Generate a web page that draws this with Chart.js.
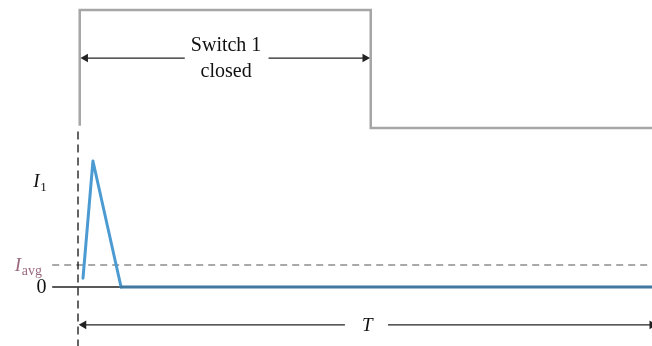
<!DOCTYPE html>
<html><head><meta charset="utf-8">
<script src="https://cdn.jsdelivr.net/npm/chart.js@4/dist/chart.umd.min.js"></script>
<style>html,body{margin:0;padding:0;background:#fff}#wrap{width:652px;height:346px}</style>
</head><body><div id="wrap"><canvas id="c"></canvas></div>
<script>
// time in units of the period T; current in units of I1; switch state 1=closed 0=open
const switchT = [0.003, 0.003, 0.51, 0.51, 1.0];
const switchState = [0.02, 1, 1, 0, 0];
const currentT = [0.0087, 0.026, 0.075, 1.0];
const currentI = [0.07, 1.0, 0, 0];
const iAvg = 0.175;
const axisT = [-0.045, 1.0];
const periodArrowY = -0.30;
const periodArrowT = [[0, 0.465], [0.54, 1.0]];
const switchArrowY = 0.593;
const switchArrowT = [[0.003, 0.186], [0.332, 0.51]];
const dashT = 0;
const dashI = [-0.48, 1.25];
const labels = {switchText: ['Switch 1', 'closed'], period: 'T', i1: ['I', '1'], iavg: ['I', 'avg'], zero: '0'};

const pts = (xs, ys) => xs.map((x, i) => ({x, y: ys[i]}));
const seg = (a, b, y, axis, rotA, rotB, color) => ({
  data: [{x: a, y}, {x: b, y}], yAxisID: axis, borderColor: color, backgroundColor: color,
  borderWidth: 1.3, pointRadius: [rotA === null ? 0 : 5, rotB === null ? 0 : 5],
  pointStyle: 'triangle', rotation: [rotA || 0, rotB || 0], pointBorderWidth: 0, order: 1
});

const labelPlugin = {
  id: 'labels',
  afterDraw(chart) {
    const {ctx, scales} = chart;
    const x = scales.x, y = scales.y, y2 = scales.y2;
    ctx.save();
    ctx.fillStyle = '#111';
    ctx.textBaseline = 'middle';
    ctx.textAlign = 'center';
    ctx.font = '20px "Liberation Serif"';
    ctx.fillText(labels.switchText[0], x.getPixelForValue(0.258), y2.getPixelForValue(0.70));
    ctx.fillText(labels.switchText[1], x.getPixelForValue(0.258), y2.getPixelForValue(0.48));
    ctx.font = 'italic 19px "Liberation Serif"';
    ctx.fillText(labels.period, x.getPixelForValue(0.504), y.getPixelForValue(periodArrowY) + 1);
    // I1
    ctx.textAlign = 'left';
    ctx.textBaseline = 'alphabetic';
    let bx = x.getPixelForValue(-0.078), by = y.getPixelForValue(0.79);
    ctx.font = 'italic 19px "Liberation Serif"';
    ctx.fillText(labels.i1[0], bx, by);
    ctx.font = '13px "Liberation Serif"';
    ctx.fillText(labels.i1[1], bx + 7, by + 4);
    // Iavg
    ctx.fillStyle = '#9a6a80';
    bx = x.getPixelForValue(-0.11); by = y.getPixelForValue(iAvg - 0.045);
    ctx.font = 'italic 19px "Liberation Serif"';
    ctx.fillText(labels.iavg[0], bx, by);
    ctx.font = '14px "Liberation Serif"';
    ctx.fillText(labels.iavg[1], bx + 7, by + 4);
    // zero
    ctx.fillStyle = '#111';
    ctx.textAlign = 'right';
    ctx.textBaseline = 'middle';
    ctx.font = '20px "Liberation Serif"';
    ctx.fillText(labels.zero, x.getPixelForValue(-0.055), y.getPixelForValue(0) + 1);
    ctx.restore();
  }
};

const datasets = [
  {data: pts(axisT, [0, 0]), borderColor: '#222', borderWidth: 1.5, pointRadius: 0, yAxisID: 'y', order: 5},
  {data: pts(axisT, [iAvg, iAvg]), borderColor: '#555', borderWidth: 1.2, borderDash: [7, 5], pointRadius: 0, yAxisID: 'y', order: 4},
  {data: pts([dashT, dashT], dashI), borderColor: '#111', borderWidth: 1.3, borderDash: [8, 5], pointRadius: 0, yAxisID: 'y', order: 3},
  {data: pts(switchT, switchState), borderColor: '#a6a6a6', borderWidth: 2.5, pointRadius: 0, yAxisID: 'y2', order: 2},
  {data: pts(currentT, currentI), borderColor: '#4b9bd2', borderWidth: 3, pointRadius: 0, yAxisID: 'y', order: 0,
   borderJoinStyle: 'round', borderCapStyle: 'round',
   segment: {borderColor: c => c.p0DataIndex === currentT.length - 2 ? '#41789f' : undefined}},
  seg(switchArrowT[0][0] + 0.01, switchArrowT[0][1], switchArrowY, 'y2', -90, null, '#222'),
  seg(switchArrowT[1][0], switchArrowT[1][1] - 0.01, switchArrowY, 'y2', null, 90, '#222'),
  seg(periodArrowT[0][0] + 0.01, periodArrowT[0][1], periodArrowY, 'y', -90, null, '#222'),
  seg(periodArrowT[1][0], periodArrowT[1][1], periodArrowY, 'y', null, 90, '#222')
];
datasets.forEach(d => { d.fill = false; d.tension = 0; d.showLine = true; d.clip = false; });

new Chart(document.getElementById('c'), {
  type: 'scatter',
  data: {datasets},
  options: {
    responsive: true, maintainAspectRatio: false, animation: false,
    layout: {padding: 0, autoPadding: false},
    plugins: {legend: {display: false}, tooltip: {enabled: false}},
    scales: {
      x: {type: 'linear', display: false, min: -0.1359, max: 1.0},
      y: {type: 'linear', display: false, min: -0.468, max: 2.278},
      y2: {type: 'linear', display: false, min: -1.847, max: 1.0847}
    }
  },
  plugins: [labelPlugin]
});
</script></body></html>
